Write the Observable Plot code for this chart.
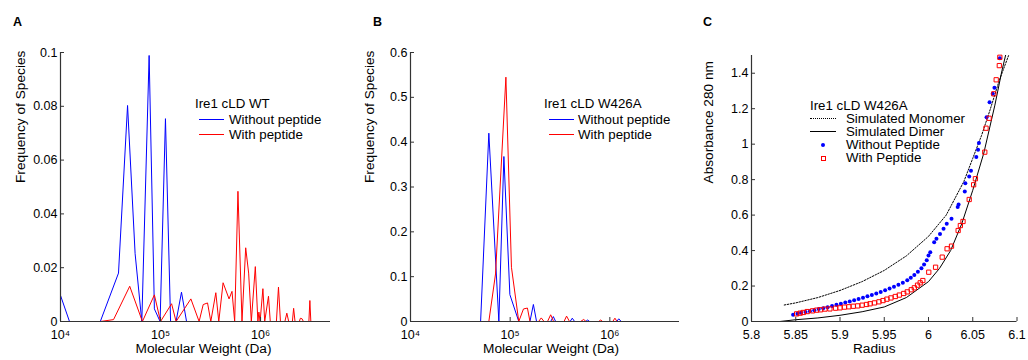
<!DOCTYPE html>
<html><head><meta charset="utf-8">
<script src="https://cdn.jsdelivr.net/npm/d3@7"></script>
<script src="https://cdn.jsdelivr.net/npm/@observablehq/plot@0.6"></script>
<style>
body{margin:0;background:#fff;font-family:"Liberation Sans",Arial,Helvetica,sans-serif;color:#000}
#wrap{position:relative;width:1028px;height:360px;overflow:hidden}
.panel{position:absolute;top:0}
.letter{position:absolute;font-weight:bold;font-size:12.5px;line-height:14px}
.lg{position:absolute;font-size:13.3px;line-height:15px;white-space:nowrap}
.sw{position:absolute}
</style></head><body><div id="wrap"></div>
<script>
// ---------- Panel A: Ire1 cLD WT ----------
const mwA_without   = [1.0e4,1.23e4,2.5e4,3.8e4,4.68e4,5.57e4,6.5e4,7.69e4,8.68e4,9.9e4,1.12e5,1.26e5,1.43e5,1.62e5,1.82e5,3.18e6];
const freqA_without = [0.0097,0,0,0.018,0.0803,0.0252,0,0.0989,0.0047,0,0.0754,0,0,0.0109,0,0];
const mwA_with   = [2.5e4,3.39e4,4.92e4,6.59e4,8.68e4,1.0e5,1.29e5,1.43e5,2.01e5,2.43e5,2.67e5,2.95e5,3.18e5,3.57e5,3.82e5,4.22e5,4.84e5,5.18e5,5.51e5,5.94e5,6.52e5,7.1e5,7.6e5,8.08e5,8.86e5,9.4e5,9.62e5,9.89e5,1.055e6,1.10e6,1.2e6,1.25e6,1.44e6,1.51e6,1.58e6,1.75e6,1.83e6,1.91e6,2.08e6,2.14e6,2.21e6,2.44e6,2.5e6,2.6e6,2.68e6,3.04e6,3.11e6,3.18e6];
const freqA_with = [0,0.0007,0.0131,0,0.0099,0,0.0066,0,0.0084,0,0.0063,0.0069,0,0.0107,0,0.0144,0.0084,0.0112,0,0.0484,0,0.0274,0.018,0,0.0204,0,0.0035,0,0.0122,0,0.0094,0,0,0.0128,0,0,0.0031,0,0,0.0049,0,0,0.0012,0.001,0,0,0.0078,0];

// ---------- Panel B: Ire1 cLD W426A ----------
const mwB_without   = [1e4,5.05e4,6.11e4,7.7e4,8.65e4,9.93e4,1.22e5,1.58e5,1.71e5,1.84e5,2.55e5,2.71e5,2.86e5,3.99e5,4.2e5,4.43e5,5.71e5,5.99e5,6.27e5,1.17e6,1.23e6,1.3e6];
const freqB_without = [0,0,0.42,0,0.368,0.06,0,0,0.038,0,0,0.011,0,0,0.0074,0,0,0.0033,0,0,0.006,0];
const mwB_with   = [1e4,6.11e4,7.13e4,9.06e4,1.03e5,1.22e5,1.36e5,1.49e5,1.58e5,1.93e5,2.05e5,2.19e5,2.37e5,2.55e5,2.73e5,3.47e5,3.68e5,3.94e5,5.09e5,5.46e5,5.78e5,7.72e5,8.09e5,8.47e5,1.07e6,1.125e6,1.18e6,1.3e6];
const freqB_with = [0,0,0.106,0.545,0.121,0,0.028,0.03,0,0,0.008,0,0,0.015,0,0,0.012,0,0,0.0045,0,0,0.0033,0,0,0.0074,0,0];

// ---------- Panel C: sedimentation equilibrium ----------
const radiusMonomer = [5.837,5.85,5.875,5.90,5.925,5.95,5.975,6.00,6.02,6.04,6.05,6.06,6.07,6.08,6.092];
const absMonomer    = [0.093,0.105,0.135,0.175,0.225,0.288,0.37,0.48,0.60,0.79,0.92,1.05,1.20,1.36,1.52];
const radiusDimer = [5.832,5.85,5.875,5.90,5.925,5.95,5.975,6.00,6.0125,6.025,6.0375,6.05,6.0625,6.075,6.083,6.088];
const absDimer    = [0.0,0.01,0.02,0.035,0.055,0.082,0.135,0.225,0.30,0.40,0.55,0.74,0.95,1.22,1.415,1.52];
const radiusWithout = [5.847,5.852,5.856,5.861,5.866,5.871,5.876,5.881,5.886,5.891,5.896,5.901,5.906,5.911,5.916,5.921,5.926,5.931,5.936,5.941,5.946,5.951,5.956,5.961,5.966,5.971,5.976,5.980,5.984,5.988,5.992,5.995,5.998,6.000,6.002,6.0064,6.009,6.013,6.017,6.0206,6.026,6.033,6.034,6.041,6.0416,6.046,6.048,6.054,6.056,6.057,6.0656,6.069,6.0725,6.0745,6.0806];
const absWithout    = [0.038,0.044,0.049,0.054,0.058,0.064,0.070,0.075,0.081,0.087,0.094,0.100,0.107,0.113,0.120,0.127,0.134,0.142,0.150,0.158,0.167,0.176,0.186,0.196,0.207,0.219,0.232,0.247,0.262,0.280,0.300,0.322,0.345,0.372,0.390,0.447,0.466,0.494,0.523,0.551,0.579,0.645,0.660,0.733,0.78,0.818,0.85,0.927,0.968,1.006,1.152,1.237,1.284,1.318,1.485];
const radiusWith = [5.851,5.855,5.8586,5.863,5.869,5.8736,5.878,5.883,5.8886,5.895,5.900,5.905,5.910,5.915,5.920,5.925,5.930,5.934,5.939,5.944,5.9486,5.953,5.9576,5.9625,5.967,5.972,5.976,5.9805,5.984,5.9876,5.9906,5.9936,6.0003,6.008,6.0155,6.021,6.026,6.0335,6.036,6.039,6.046,6.051,6.053,6.0636,6.065,6.0685,6.0738,6.0765,6.080,6.0806];
const absWith    = [0.043,0.047,0.051,0.056,0.060,0.064,0.066,0.070,0.071,0.075,0.077,0.081,0.083,0.086,0.088,0.092,0.096,0.100,0.105,0.111,0.118,0.126,0.133,0.141,0.149,0.158,0.167,0.179,0.190,0.205,0.218,0.231,0.278,0.306,0.363,0.410,0.425,0.513,0.541,0.564,0.688,0.771,0.805,0.955,1.09,1.146,1.284,1.363,1.443,1.49];

// ---------- ticks ----------
const mwTicks = [1e4, 1e5, 1e6];
const freqTicksA = [0, 0.02, 0.04, 0.06, 0.08, 0.1];
const freqTicksB = [0, 0.1, 0.2, 0.3, 0.4, 0.5, 0.6];
const radiusTicks = [5.8, 5.85, 5.9, 5.95, 6.0, 6.05, 6.1];
const absTicks = [0, 0.2, 0.4, 0.6, 0.8, 1.0, 1.2, 1.4];

const BLUE = "#0000ff", RED = "#ff0000", AXIS = "#333";
const FONT = "Liberation Sans, Arial, Helvetica, sans-serif";
const sup = {"0":"⁰","1":"¹","2":"²","3":"³","4":"⁴","5":"⁵","6":"⁶","7":"⁷","8":"⁸","9":"⁹"};
const fmtPow = d => "10" + String(Math.round(Math.log10(d))).split("").map(c => sup[c]).join("");
const fmtNum = d => String(+(+d).toFixed(2));
const zip = (xs, ys) => xs.map((x, i) => ({x, y: ys[i]}));

const wrap = document.getElementById("wrap");
function place(el, left) {
  const d = document.createElement("div");
  d.className = "panel"; d.style.left = left + "px";
  d.appendChild(el); wrap.appendChild(d);
}
function html(cls, text, left, top, extra) {
  const d = document.createElement("div");
  d.className = cls; d.textContent = text || "";
  d.style.left = left + "px"; d.style.top = top + "px";
  if (extra) for (const k in extra) d.style.setProperty(k, extra[k]);
  wrap.appendChild(d);
}

function mwPanel(width, marginLeft, plotW, yMax, yTicks, without, withP, xlDx, ylDx) {
  return Plot.plot({
    width, height: 360, marginLeft, marginRight: width - marginLeft - plotW,
    marginTop: 52, marginBottom: 39,
    style: {fontFamily: FONT, fontSize: "12.5px", color: "#000", background: "transparent", overflow: "visible"},
    x: {type: "log", domain: [1e4, 5e6]},
    y: {domain: [0, yMax]},
    marks: [
      Plot.line(without, {x: "x", y: "y", stroke: BLUE, strokeWidth: 1}),
      Plot.line(withP, {x: "x", y: "y", stroke: RED, strokeWidth: 1}),
      Plot.ruleY([0], {stroke: AXIS, strokeWidth: 1.2}),
      Plot.ruleX([1e4], {stroke: AXIS, strokeWidth: 1.2}),
      Plot.axisX({ticks: mwTicks, tickFormat: fmtPow, tickSize: -4, tickPadding: 13, label: null, stroke: AXIS}),
      Plot.axisY({ticks: yTicks, tickFormat: fmtNum, tickSize: -4, tickPadding: 7, label: null, stroke: AXIS}),
      Plot.text(["Molecular Weight (Da)"], {text: d => d, frameAnchor: "bottom", dy: 31, dx: xlDx, fontSize: 13.7}),
      Plot.text(["Frequency of Species"], {text: d => d, frameAnchor: "left", dx: ylDx, dy: -4, rotate: -90, fontSize: 13.7})
    ]
  });
}

place(mwPanel(340, 60, 270, 0.1, freqTicksA, zip(mwA_without, freqA_without), zip(mwA_with, freqA_with), 8, -40), 0);
place(mwPanel(345, 70, 269, 0.6, freqTicksB, zip(mwB_without, freqB_without), zip(mwB_with, freqB_with), 6, -40.5), 340);

const chartC = Plot.plot({
  width: 348, height: 360, marginLeft: 71, marginRight: 11.5, marginTop: 55, marginBottom: 39,
  style: {fontFamily: FONT, fontSize: "12.5px", color: "#000", background: "transparent", overflow: "visible"},
  x: {domain: [5.8, 6.1]},
  y: {domain: [0, 1.5]},
  marks: [
    Plot.line(zip(radiusMonomer, absMonomer), {x: "x", y: "y", stroke: "#000", strokeWidth: 1, strokeDasharray: "1.5,1.5", clip: true}),
    Plot.line(zip(radiusDimer, absDimer), {x: "x", y: "y", stroke: "#000", strokeWidth: 1, clip: true}),
    Plot.dot(zip(radiusWithout, absWithout), {x: "x", y: "y", r: 2, fill: BLUE, stroke: null}),
    Plot.dot(zip(radiusWith, absWith), {x: "x", y: "y", symbol: "square", r: 2.4, fill: "none", stroke: RED, strokeWidth: 1}),
    Plot.ruleY([0], {stroke: AXIS, strokeWidth: 1.2}),
    Plot.ruleX([5.8], {stroke: AXIS, strokeWidth: 1.2}),
    Plot.axisX({ticks: radiusTicks, tickFormat: fmtNum, tickSize: -4, tickPadding: 13, label: null, stroke: AXIS}),
    Plot.axisY({ticks: absTicks, tickFormat: fmtNum, tickSize: -4, tickPadding: 7, label: null, stroke: AXIS}),
    Plot.text(["Radius"], {text: d => d, frameAnchor: "bottom", dy: 31, dx: -10, fontSize: 13.7}),
    Plot.text(["Absorbance 280 nm"], {text: d => d, frameAnchor: "left", dx: -43, dy: -5, rotate: -90, fontSize: 13.7})
  ]
});
place(chartC, 680);

// ---------- panel letters ----------
html("letter", "A", 13, 15);
html("letter", "B", 373, 15);
html("letter", "C", 703, 15);

// ---------- legends ----------
function lineSw(x1, x2, y, color, dotted) {
  if (dotted) html("sw", "", x1, y, {"width": (x2 - x1) + "px", "height": "0px", "border-top": "1px dotted " + color});
  else html("sw", "", x1, y, {"width": (x2 - x1) + "px", "height": "1px", "background-color": color});
}
html("lg", "Ire1 cLD WT", 195, 96);
lineSw(199, 224, 119, BLUE); html("lg", "Without peptide", 229, 112);
lineSw(199, 224, 134, RED); html("lg", "With peptide", 229, 127);

html("lg", "Ire1 cLD W426A", 544, 96);
lineSw(549, 574, 119, BLUE); html("lg", "Without peptide", 578, 112);
lineSw(549, 574, 134, RED); html("lg", "With peptide", 578, 127);

html("lg", "Ire1 cLD W426A", 810, 98);
lineSw(810, 836, 118, "#000", true); html("lg", "Simulated Monomer", 846, 111);
lineSw(810, 836, 131, "#000"); html("lg", "Simulated Dimer", 846, 124);
html("sw", "", 821, 143, {"width": "4px", "height": "4px", "border-radius": "50%", "background-color": BLUE});
html("lg", "Without Peptide", 846, 137);
html("sw", "", 821, 156, {"width": "3px", "height": "3px", "border": "1px solid " + RED});
html("lg", "With Peptide", 846, 150);
</script></body></html>
